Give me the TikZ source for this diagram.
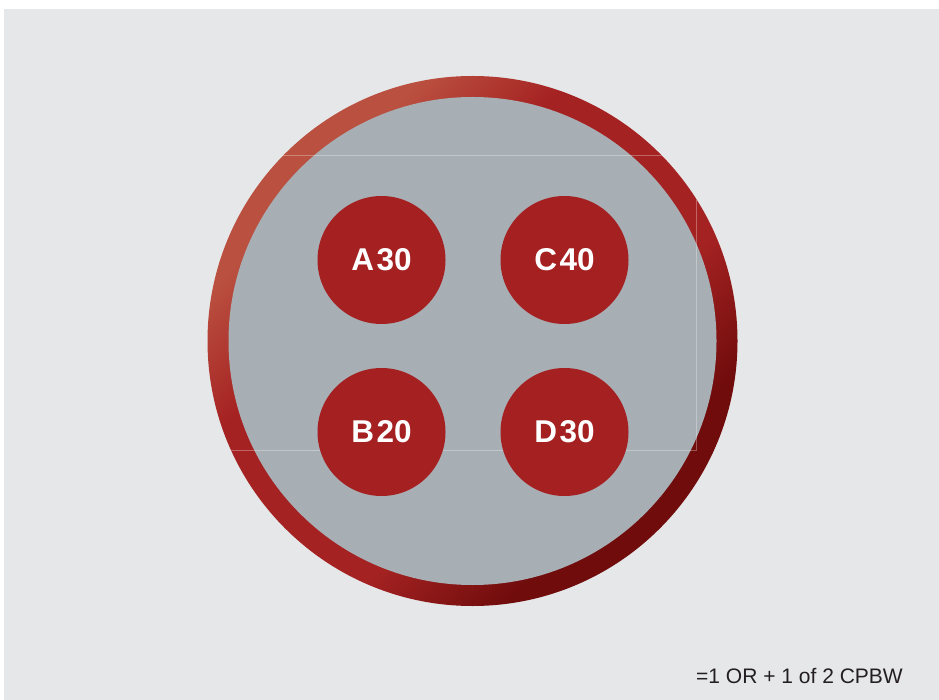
\documentclass[tikz,border=0pt]{standalone}
\usepackage{fontspec}
\setmainfont{Liberation Sans}
\definecolor{pagebg}{HTML}{E6E7E8}
\definecolor{discgray}{HTML}{A7AEB4}
\definecolor{spotred}{HTML}{A52020}
\definecolor{ringlight}{HTML}{BA5040}
\definecolor{ringmid}{HTML}{A52222}
\definecolor{ringdark}{HTML}{700C0C}
\definecolor{notetext}{HTML}{231F20}
% light at the top end, dark at the bottom end, flat red in between
\pgfdeclareverticalshading{ringshade}{100bp}{%
  color(0bp)=(ringdark); color(30bp)=(ringdark); color(41bp)=(ringmid);
  color(61bp)=(ringmid); color(71bp)=(ringlight); color(100bp)=(ringlight)}
\tikzset{
  spot/.style={circle, fill=spotred, minimum size=128pt, inner sep=0pt,
    text=white, font=\fontsize{31.5}{31.5}\selectfont\bfseries},
  note/.style={anchor=base west, inner sep=0pt, text=notetext,
    font=\fontsize{21}{21}\selectfont},
  guide/.style={draw=white, draw opacity=0.3, line width=0.8pt}
}
\begin{document}
\begin{tikzpicture}[x=1pt, y=-1pt]
  \useasboundingbox (0,0) rectangle (939,700);
  \fill[white] (0,0) rectangle (939,700);
  \fill[pagebg] (4,9) rectangle (939,700);

  % outer ring: shading turned so its light end faces the upper left
  \shade[shading=ringshade, shading angle=45] (472.5,341) circle (265);
  \fill[discgray] (472.5,341) circle (244);

  % faint guide frame, visible only inside the ring
  \begin{scope}
    \clip (472.5,341) circle (265);
    \draw[guide] (100,155) rectangle (696,450);
  \end{scope}

  % four spots
  \node[spot] (a) at (381.5,260) {A\kern2.5pt30};
  \node[spot] (c) at (564.5,260) {C\kern2.5pt40};
  \node[spot] (b) at (381.5,432) {B\kern2.5pt20};
  \node[spot] (d) at (564.5,432) {D\kern2.5pt30};

  \node[note] (n) at (696,683) {=1 OR + 1 of 2 CPBW};
\end{tikzpicture}
\end{document}
